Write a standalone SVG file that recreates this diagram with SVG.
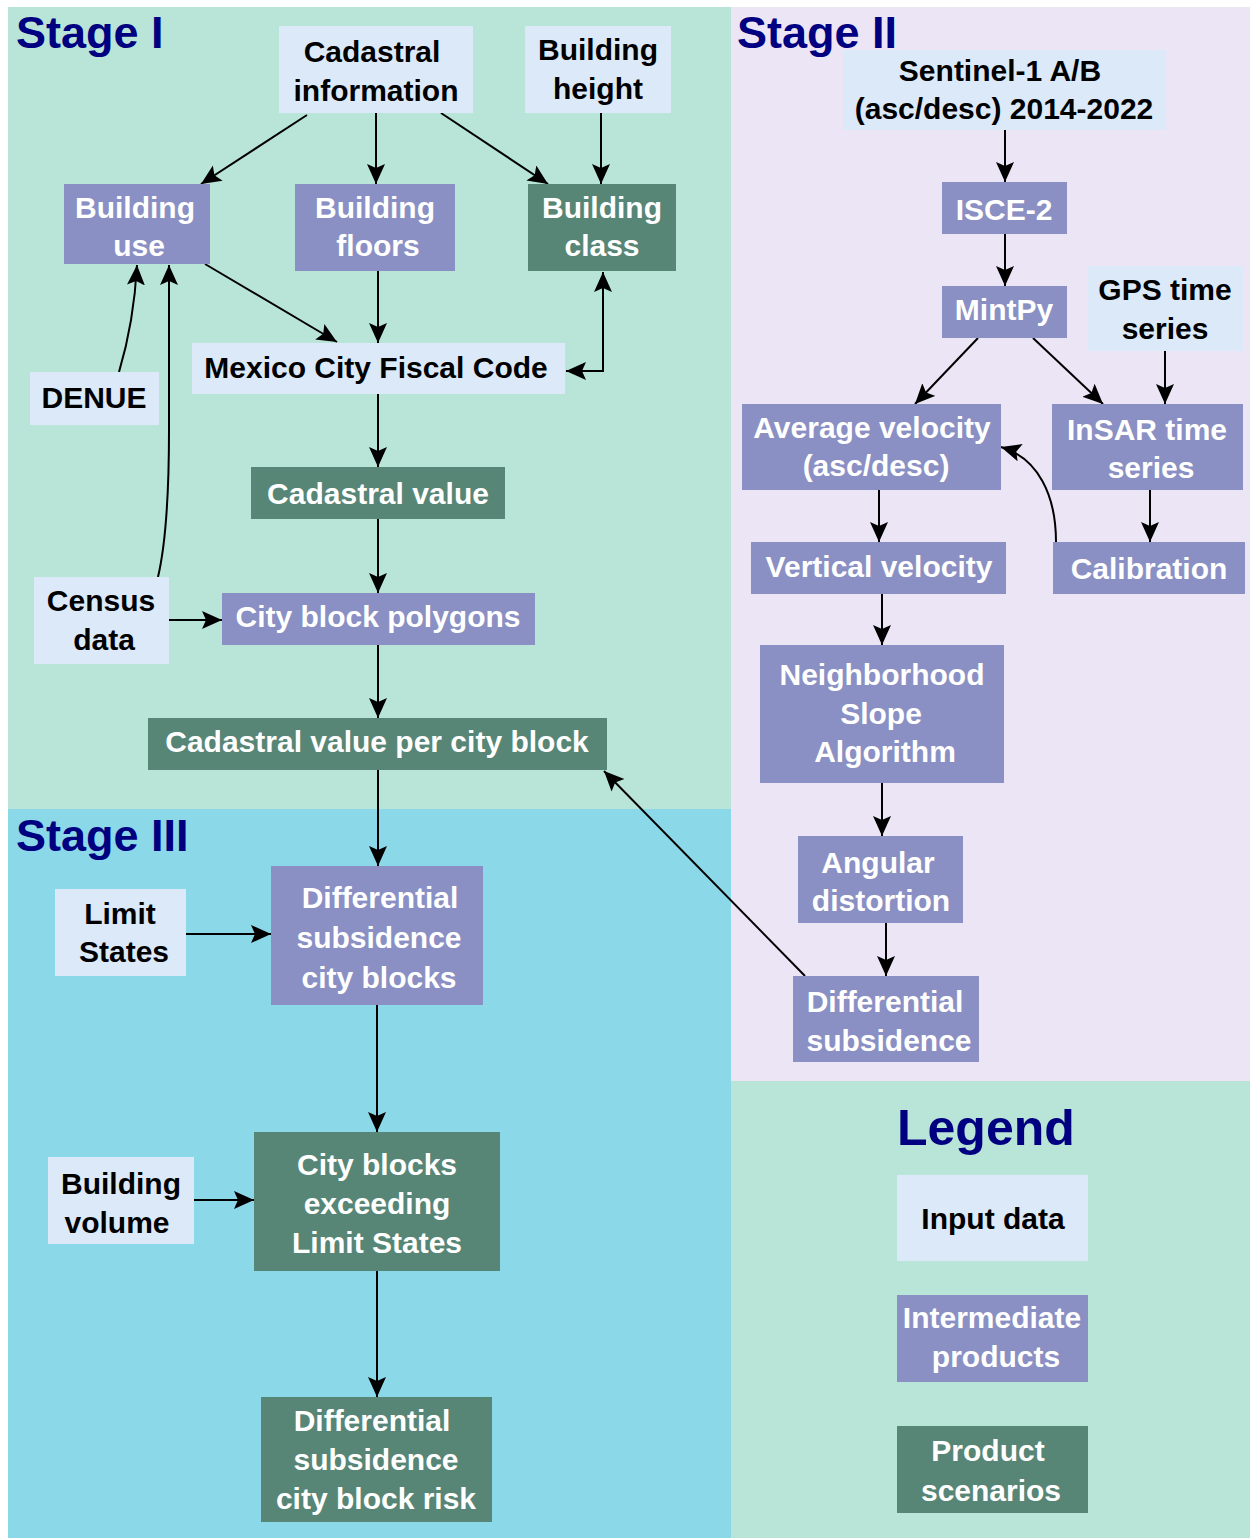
<svg xmlns="http://www.w3.org/2000/svg" width="1250" height="1538" viewBox="0 0 1250 1538">
<defs>
<style>
text{font-family:"Liberation Sans",Arial,sans-serif;font-weight:bold;font-size:30px;text-anchor:middle}
.in{fill:#dbe9f9}
.im{fill:#8a90c3}
.pr{fill:#578677}
.tk{fill:#000}
.tw{fill:#fff}
.title{fill:#000080;font-size:45px;text-anchor:start}
.c{fill:none;stroke:#000;stroke-width:2}
</style>
<marker id="ah" markerUnits="userSpaceOnUse" markerWidth="22" markerHeight="20" refX="20" refY="9" orient="auto-start-reverse" viewBox="0 0 22 20">
<path d="M0,0 L20,9 L0,18 L4,9 z" fill="#000"/>
</marker>
</defs>
<rect x="0" y="0" width="1250" height="1538" fill="#fff"/>
<g id="panels">
<rect x="8" y="7" width="723" height="802" fill="#b8e5d8"/>
<rect x="731" y="7" width="519" height="1074" fill="#ebe5f6"/>
<rect x="8" y="809" width="723" height="729" fill="#8ad8e8"/>
<rect x="731" y="1081" width="519" height="457" fill="#b8e5d8"/>
<text class="title" x="16" y="48">Stage I</text>
<text class="title" x="737" y="48">Stage II</text>
<text class="title" x="16" y="851">Stage III</text>
<text class="title" x="897" y="1145" style="font-size:50px">Legend</text>
</g>
<g id="connectors">
<path class="c" d="M307,115 L201,184" marker-end="url(#ah)"/>
<path class="c" d="M376,113 L376,184" marker-end="url(#ah)"/>
<path class="c" d="M441,113 L548,184" marker-end="url(#ah)"/>
<path class="c" d="M601,113 L601,184" marker-end="url(#ah)"/>
<path class="c" d="M205,264 L337,342" marker-end="url(#ah)"/>
<path class="c" d="M378,271 L378,343" marker-end="url(#ah)"/>
<path class="c" d="M566,371 L603,371 L603,272" marker-start="url(#ah)" marker-end="url(#ah)"/>
<path class="c" d="M119,372 Q134,322 137,265" marker-end="url(#ah)"/>
<path class="c" d="M158,577 Q169,530 169,430 L169,265" marker-end="url(#ah)"/>
<path class="c" d="M378,394 L378,467" marker-end="url(#ah)"/>
<path class="c" d="M378,519 L378,593" marker-end="url(#ah)"/>
<path class="c" d="M169,620 L222,620" marker-end="url(#ah)"/>
<path class="c" d="M378,645 L378,718" marker-end="url(#ah)"/>
<path class="c" d="M378,770 L378,866" marker-end="url(#ah)"/>
<path class="c" d="M805,976 L604,771" marker-end="url(#ah)"/>
<path class="c" d="M1005,130 L1005,182" marker-end="url(#ah)"/>
<path class="c" d="M1005,234 L1005,286" marker-end="url(#ah)"/>
<path class="c" d="M978,338 L915,404" marker-end="url(#ah)"/>
<path class="c" d="M1033,338 L1103,404" marker-end="url(#ah)"/>
<path class="c" d="M1165,351 L1165,404" marker-end="url(#ah)"/>
<path class="c" d="M1150,490 L1150,542" marker-end="url(#ah)"/>
<path class="c" d="M1056,542 C1056,495 1038,458 1001,447" marker-end="url(#ah)"/>
<path class="c" d="M879,490 L879,542" marker-end="url(#ah)"/>
<path class="c" d="M882,594 L882,645" marker-end="url(#ah)"/>
<path class="c" d="M882,783 L882,836" marker-end="url(#ah)"/>
<path class="c" d="M886,923 L886,976" marker-end="url(#ah)"/>
<path class="c" d="M186,934 L271,934" marker-end="url(#ah)"/>
<path class="c" d="M377,1005 L377,1132" marker-end="url(#ah)"/>
<path class="c" d="M194,1200 L254,1200" marker-end="url(#ah)"/>
<path class="c" d="M377,1271 L377,1397" marker-end="url(#ah)"/>
</g>
<g id="cadastral-information"><rect class="in" x="279" y="26" width="194" height="87"/><text class="tk" x="372" y="62">Cadastral</text><text class="tk" x="376" y="101">information</text></g>
<g id="building-height"><rect class="in" x="525" y="26" width="146" height="87"/><text class="tk" x="598" y="60">Building</text><text class="tk" x="598" y="99">height</text></g>
<g id="building-use"><rect class="im" x="64" y="184" width="146" height="80"/><text class="tw" x="135" y="218">Building</text><text class="tw" x="139" y="256">use</text></g>
<g id="building-floors"><rect class="im" x="295" y="184" width="160" height="87"/><text class="tw" x="375" y="218">Building</text><text class="tw" x="378" y="256">floors</text></g>
<g id="building-class"><rect class="pr" x="528" y="184" width="148" height="87"/><text class="tw" x="602" y="218">Building</text><text class="tw" x="602" y="256">class</text></g>
<g id="denue"><rect class="in" x="30" y="372" width="129" height="53"/><text class="tk" x="94" y="408">DENUE</text></g>
<g id="fiscal-code"><rect class="in" x="192" y="343" width="373" height="51"/><text class="tk" x="376" y="378">Mexico City Fiscal Code</text></g>
<g id="cadastral-value"><rect class="pr" x="251" y="467" width="254" height="52"/><text class="tw" x="378" y="504">Cadastral value</text></g>
<g id="census-data"><rect class="in" x="34" y="577" width="135" height="87"/><text class="tk" x="101" y="611">Census</text><text class="tk" x="104" y="650">data</text></g>
<g id="city-block-polygons"><rect class="im" x="222" y="593" width="313" height="52"/><text class="tw" x="378" y="627">City block polygons</text></g>
<g id="cadastral-value-per-city-block"><rect class="pr" x="148" y="718" width="459" height="52"/><text class="tw" x="377" y="752">Cadastral value per city block</text></g>
<g id="sentinel"><rect class="in" x="843" y="50" width="323" height="80"/><text class="tk" x="1000" y="81">Sentinel-1 A/B</text><text class="tk" x="1004" y="119">(asc/desc) 2014-2022</text></g>
<g id="isce2"><rect class="im" x="942" y="182" width="125" height="52"/><text class="tw" x="1004" y="220">ISCE-2</text></g>
<g id="mintpy"><rect class="im" x="942" y="286" width="125" height="52"/><text class="tw" x="1004" y="320">MintPy</text></g>
<g id="gps-time-series"><rect class="in" x="1088" y="266" width="155" height="85"/><text class="tk" x="1165" y="300">GPS time</text><text class="tk" x="1165" y="339">series</text></g>
<g id="average-velocity"><rect class="im" x="742" y="404" width="259" height="86"/><text class="tw" x="872" y="438">Average velocity</text><text class="tw" x="876" y="476">(asc/desc)</text></g>
<g id="insar-time-series"><rect class="im" x="1052" y="404" width="191" height="86"/><text class="tw" x="1147" y="440">InSAR time</text><text class="tw" x="1151" y="478">series</text></g>
<g id="vertical-velocity"><rect class="im" x="751" y="542" width="255" height="52"/><text class="tw" x="879" y="577">Vertical velocity</text></g>
<g id="calibration"><rect class="im" x="1053" y="542" width="192" height="52"/><text class="tw" x="1149" y="579">Calibration</text></g>
<g id="neighborhood-slope"><rect class="im" x="760" y="645" width="244" height="138"/><text class="tw" x="882" y="685">Neighborhood</text><text class="tw" x="881" y="724">Slope</text><text class="tw" x="885" y="762">Algorithm</text></g>
<g id="angular-distortion"><rect class="im" x="798" y="836" width="165" height="87"/><text class="tw" x="878" y="873">Angular</text><text class="tw" x="881" y="911">distortion</text></g>
<g id="differential-subsidence"><rect class="im" x="793" y="976" width="186" height="86"/><text class="tw" x="885" y="1012">Differential</text><text class="tw" x="889" y="1051">subsidence</text></g>
<g id="limit-states"><rect class="in" x="55" y="889" width="131" height="87"/><text class="tk" x="120" y="924">Limit</text><text class="tk" x="124" y="962">States</text></g>
<g id="diff-subsidence-city-blocks"><rect class="im" x="271" y="866" width="212" height="139"/><text class="tw" x="380" y="908">Differential</text><text class="tw" x="379" y="948">subsidence</text><text class="tw" x="379" y="988">city blocks</text></g>
<g id="building-volume"><rect class="in" x="48" y="1157" width="146" height="87"/><text class="tk" x="121" y="1194">Building</text><text class="tk" x="117" y="1233">volume</text></g>
<g id="city-blocks-exceeding"><rect class="pr" x="254" y="1132" width="246" height="139"/><text class="tw" x="377" y="1175">City blocks</text><text class="tw" x="377" y="1214">exceeding</text><text class="tw" x="377" y="1253">Limit States</text></g>
<g id="city-block-risk"><rect class="pr" x="261" y="1397" width="231" height="125"/><text class="tw" x="372" y="1431">Differential</text><text class="tw" x="376" y="1470">subsidence</text><text class="tw" x="376" y="1509">city block risk</text></g>
<g id="legend-input"><rect class="in" x="897" y="1175" width="191" height="86"/><text class="tk" x="993" y="1229">Input data</text></g>
<g id="legend-intermediate"><rect class="im" x="897" y="1295" width="191" height="87"/><text class="tw" x="992" y="1328">Intermediate</text><text class="tw" x="996" y="1367">products</text></g>
<g id="legend-product"><rect class="pr" x="897" y="1426" width="191" height="87"/><text class="tw" x="988" y="1461">Product</text><text class="tw" x="991" y="1501">scenarios</text></g>
</svg>
